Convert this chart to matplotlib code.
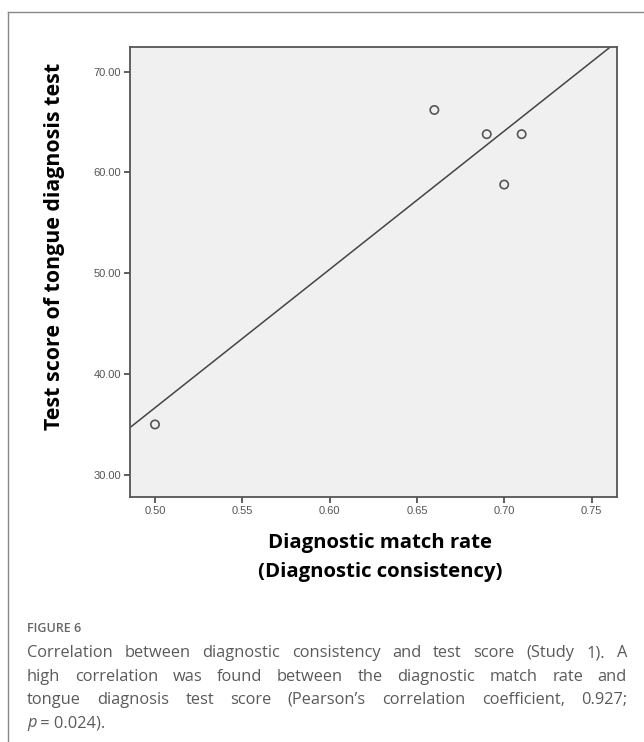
import numpy as np
import matplotlib.pyplot as plt
from matplotlib.lines import Line2D

# data
match_rate = [0.50, 0.66, 0.69, 0.70, 0.71]
test_score = [35.0, 66.2, 63.8, 58.8, 63.8]
x_ticks = [0.50, 0.55, 0.60, 0.65, 0.70, 0.75]
y_ticks = [30, 40, 50, 60, 70]

caption_head = "FIGURE 6"
caption_lines = [
    "Correlation between diagnostic consistency and test score (Study 1). A",
    "high correlation was found between the diagnostic match rate and",
    "tongue diagnosis test score (Pearson\u2019s correlation coefficient, 0.927;",
]

W, H = 644, 742
fig = plt.figure(figsize=(W / 100, H / 100), dpi=100)
fig.patch.set_facecolor("white")

ax = fig.add_axes([130 / W, 1 - 497 / H, 487 / W, 450 / H])
ax.set_facecolor("#f0f0f0")
ax.set_xlim(0.4857, 0.7646)
ax.set_ylim(27.8, 72.45)

# least squares fit line
slope, icpt = np.polyfit(match_rate, test_score, 1)
xs = np.array(ax.get_xlim())
ax.plot(xs, icpt + slope * xs, color="#444444", lw=1.1, zorder=2)
ax.scatter(match_rate, test_score, s=36, facecolors="none", edgecolors="#555555",
           linewidths=1.2, zorder=3)

ax.set_xticks(x_ticks)
ax.set_xticklabels([f"{v:.2f}" for v in x_ticks])
ax.set_yticks(y_ticks)
ax.set_yticklabels([f"{v:.2f}" for v in y_ticks])
ax.tick_params(direction="out", length=4, width=1.2, color="#444444",
               labelcolor="#555555", labelsize=8, pad=2.5)
for lab in ax.get_xticklabels() + ax.get_yticklabels():
    lab.set_family("Liberation Sans")
for sp in ax.spines.values():
    sp.set_color("#555555")
    sp.set_linewidth(1.3)

fig.text(55 / W, 1 - 246 / H, "Test score of tongue diagnosis test", rotation=90,
         ha="center", va="center", fontsize=15.4, fontweight="bold",
         family="Open Sans", color="black")
fig.text(380 / W, 1 - 543 / H, "Diagnostic match rate", ha="center", va="center",
         fontsize=14.7, fontweight="bold", family="Open Sans", color="black")
fig.text(380 / W, 1 - 572 / H, "(Diagnostic consistency)", ha="center", va="center",
         fontsize=14.7, fontweight="bold", family="Open Sans", color="black")

# frame around the figure panel
fig.add_artist(Line2D([7.5 / W, 7.5 / W], [0, 1 - 11.5 / H], color="#888888", lw=1))
fig.add_artist(Line2D([7.5 / W, 1], [1 - 11.5 / H, 1 - 11.5 / H], color="#888888", lw=1))

# caption, justified like the journal layout
cap_kw = dict(family="Open Sans", color="#5a5a5a", fontsize=11.8, va="center")
fig.text(27 / W, 1 - 629 / H, caption_head, family="Open Sans", color="#666666",
         fontsize=9, fontweight="semibold", va="center")
renderer = fig.canvas.get_renderer()
left, right = 27, 627
line_y = [653, 677, 700]
for line, yy in zip(caption_lines, line_y):
    words = line.split(" ")
    texts = [fig.text(0, 1 - yy / H, w, **cap_kw) for w in words]
    widths = [t.get_window_extent(renderer).width for t in texts]
    gap = (right - left - sum(widths)) / (len(words) - 1)
    x = left
    for t, w in zip(texts, widths):
        t.set_x(x / W)
        x += w + gap

t_p = fig.text(27 / W, 1 - 723 / H, "p", style="italic", **cap_kw)
pw = t_p.get_window_extent(renderer).width
fig.text((27 + pw) / W, 1 - 723 / H, " = 0.024).", **cap_kw)

fig.savefig("out.png", dpi=100)
